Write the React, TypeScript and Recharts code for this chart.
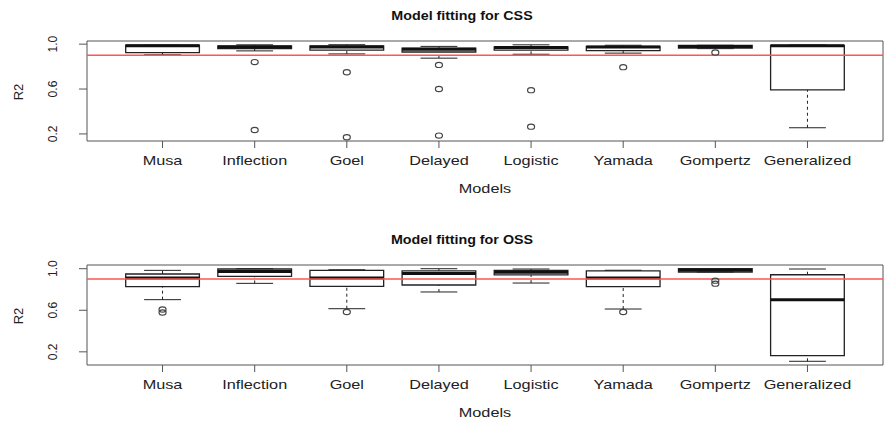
import { ComposedChart, XAxis, YAxis, ReferenceArea, ReferenceLine, Scatter } from 'recharts'

const models = ['Musa', 'Inflection', 'Goel', 'Delayed', 'Logistic', 'Yamada', 'Gompertz', 'Generalized']

// CSS: five-number summaries per model, then outliers
const cssMin = [0.905, 0.94, 0.913, 0.875, 0.91, 0.92, 0.96, 0.255]
const cssQ1 = [0.925, 0.96, 0.947, 0.93, 0.946, 0.943, 0.965, 0.592]
const cssMedian = [0.985, 0.975, 0.975, 0.955, 0.97, 0.975, 0.98, 0.985]
const cssQ3 = [0.99, 0.985, 0.985, 0.964, 0.976, 0.98, 0.988, 0.988]
const cssMax = [0.99, 0.994, 0.995, 0.98, 0.994, 0.99, 0.99, 0.992]
const cssOutliers = [[], [0.84, 0.235], [0.75, 0.17], [0.815, 0.6, 0.185], [0.59, 0.265], [0.795], [0.925], []]

// OSS
const ossMin = [0.702, 0.859, 0.615, 0.776, 0.862, 0.612, 0.968, 0.109]
const ossQ1 = [0.827, 0.926, 0.83, 0.843, 0.94, 0.827, 0.968, 0.163]
const ossMedian = [0.91, 0.974, 0.91, 0.955, 0.965, 0.91, 0.985, 0.702]
const ossQ3 = [0.949, 0.997, 0.984, 0.98, 0.984, 0.98, 1.0, 0.942]
const ossMax = [0.984, 1.0, 0.99, 1.0, 0.997, 0.985, 1.0, 0.997]
const ossOutliers = [[0.607, 0.578], [], [0.583], [], [], [0.583], [0.885, 0.856], []]

const yTicks = [0.2, 0.4, 0.6, 0.8, 1.0]
const yLabelled = [0.2, 0.6, 1.0]
const threshold = 0.9

const FONT = '"Liberation Sans", Arial, sans-serif'
const INK = '#222'
const FRAME = '#555'
const X_DOMAIN = [0.18, 8.82]
// the source image is stretched sideways, so text and circles are too
const STRETCH = 1.25

const YTick = (props: any) => {
  const { x, y, payload } = props
  const show = yLabelled.some((v) => Math.abs(v - payload.value) < 1e-6)
  if (!show) return null
  const cx = x - 24
  return (
    <text x={cx} y={y} dy="0.35em" textAnchor="middle" transform={`rotate(-90 ${cx} ${y})`}
      fontSize={12} fill={INK} fontFamily={FONT}>
      {payload.value.toFixed(1)}
    </text>
  )
}

const XTick = (props: any) => {
  const { x, y, payload } = props
  return (
    <text x={0} y={0} dy="0.71em" textAnchor="middle" transform={`translate(${x} ${y}) scale(${STRETCH} 1)`}
      fontSize={13} fill={INK} fontFamily={FONT}>
      {models[payload.value - 1]}
    </text>
  )
}

interface PanelProps {
  title: string
  min: number[]
  q1: number[]
  median: number[]
  q3: number[]
  max: number[]
  outliers: number[][]
  top: number
  height: number
  marginTop: number
}

function Panel({ title, min, q1, median, q3, max, outliers, top, height, marginTop }: PanelProps) {
  const all = [...min, ...max, ...outliers.flat()]
  const lo = Math.min(...all)
  const hi = Math.max(...all)
  const pad = (hi - lo) * 0.04
  const domain = [lo - pad, hi + pad]
  const points = outliers.flatMap((vals, i) => vals.map((v) => ({ x: i + 1, y: v })))
  const xs = models.map((_, i) => i + 1)
  const plotBottom = marginTop + 100

  return (
    <div style={{ position: 'absolute', left: 0, top, width: 887, height, fontFamily: FONT }}>
      <ComposedChart width={887} height={height} margin={{ top: marginTop, right: 4, bottom: height - plotBottom - 30, left: 0 }}>
        <XAxis type="number" dataKey="x" domain={X_DOMAIN} ticks={xs} interval={0} height={30}
          axisLine={false} tickLine={{ stroke: FRAME }} tickSize={7} tickMargin={8} tick={<XTick />} />
        <YAxis type="number" domain={domain} ticks={yTicks} width={87} axisLine={false}
          tickLine={{ stroke: FRAME }} tickSize={8} tick={<YTick />} />
        <ReferenceArea x1={X_DOMAIN[0]} x2={X_DOMAIN[1]} y1={domain[0]} y2={domain[1]}
          fill="none" stroke={FRAME} strokeWidth={1} />
        {xs.map((x, i) => (
          <ReferenceLine key={`uw${i}`} segment={[{ x, y: q3[i] }, { x, y: max[i] }]}
            stroke={INK} strokeDasharray="3 3" />
        ))}
        {xs.map((x, i) => (
          <ReferenceLine key={`lw${i}`} segment={[{ x, y: min[i] }, { x, y: q1[i] }]}
            stroke={INK} strokeDasharray="3 3" />
        ))}
        {xs.map((x, i) => (
          <ReferenceLine key={`uc${i}`} segment={[{ x: x - 0.2, y: max[i] }, { x: x + 0.2, y: max[i] }]}
            stroke={INK} />
        ))}
        {xs.map((x, i) => (
          <ReferenceLine key={`lc${i}`} segment={[{ x: x - 0.2, y: min[i] }, { x: x + 0.2, y: min[i] }]}
            stroke={INK} />
        ))}
        {xs.map((x, i) => (
          <ReferenceArea key={`bx${i}`} x1={x - 0.4} x2={x + 0.4} y1={q1[i]} y2={q3[i]}
            fill="#fff" fillOpacity={1} stroke={INK} strokeWidth={1.3} />
        ))}
        {xs.map((x, i) => (
          <ReferenceLine key={`md${i}`} segment={[{ x: x - 0.4, y: median[i] }, { x: x + 0.4, y: median[i] }]}
            stroke="#111" strokeWidth={3} />
        ))}
        <Scatter data={points} dataKey="y" isAnimationActive={false}
          shape={(p: any) => <ellipse cx={p.cx} cy={p.cy} rx={2.8 * STRETCH} ry={2.6} fill="none" stroke="#444" strokeWidth={1.2} />} />
        <ReferenceLine y={threshold} stroke="#ff5555" strokeWidth={1.5} />
      </ComposedChart>
      <div style={{ position: 'absolute', left: 462, top: marginTop - 26, transform: `translate(-50%, -50%) scaleX(1.1)`,
        fontWeight: 'bold', fontSize: 13, color: '#111', whiteSpace: 'nowrap' }}>{title}</div>
      <div style={{ position: 'absolute', left: 485, top: plotBottom + 47, transform: `translate(-50%, -50%) scaleX(${STRETCH})`,
        fontSize: 13, color: INK, whiteSpace: 'nowrap' }}>Models</div>
      <div style={{ position: 'absolute', left: 18, top: marginTop + 51, transform: 'translate(-50%, -50%) rotate(-90deg)',
        fontSize: 13, color: INK, whiteSpace: 'nowrap' }}>R2</div>
    </div>
  )
}

export default function App() {
  return (
    <div style={{ position: 'absolute', left: 0, top: 0, width: 887, height: 422, background: '#fff', overflow: 'hidden' }}>
      <Panel title="Model fitting for CSS" min={cssMin} q1={cssQ1} median={cssMedian} q3={cssQ3} max={cssMax}
        outliers={cssOutliers} top={0} height={211} marginTop={41} />
      <Panel title="Model fitting for OSS" min={ossMin} q1={ossQ1} median={ossMedian} q3={ossQ3} max={ossMax}
        outliers={ossOutliers} top={211} height={211} marginTop={54} />
    </div>
  )
}
